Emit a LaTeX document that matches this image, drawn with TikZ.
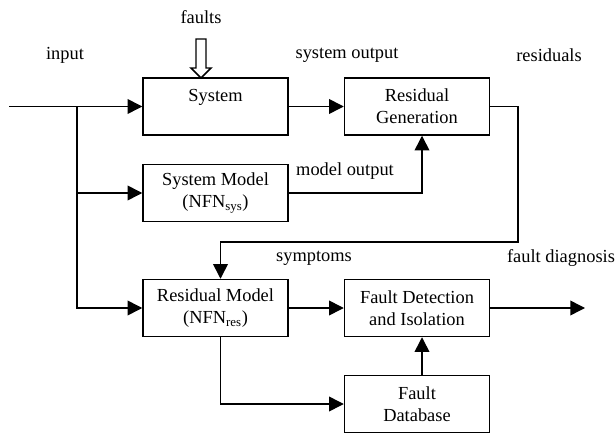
\documentclass[tikz,border=0pt]{standalone}
\usepackage{fontspec}
\setmainfont{Liberation Serif}
\usetikzlibrary{arrows.meta}

\begin{document}
\begin{tikzpicture}[x=0.75pt,y=-0.75pt,
		line width=1.1pt,
		font=\fontsize{13.8}{16.3}\selectfont,
		block/.style={draw,rectangle,align=center,inner sep=2pt,
			minimum width=108.75pt,minimum height=42.75pt},
		arr/.style={-{Triangle[length=11pt,width=11pt]}},
		lbl/.style={inner sep=1pt}]
		\useasboundingbox (0,0) rectangle (616,434);
		% blocks
		\node[block] (sys) at (215.5,106.5) {System\\\phantom{S}};
		\node[block] (resgen) at (417,106.5) {Residual\\Generation};
		\node[block] (sysmod) at (215.5,193) {System Model\\(NFN\textsubscript{sys})};
		\node[block] (resmod) at (215.5,308) {Residual Model\\(NFN\textsubscript{res})};
		\node[block] (fdi) at (417,308) {Fault Detection\\and Isolation};
		\node[block] (fdb) at (417,404) {Fault\\Database};
		% labels
		\node[lbl] (faults) at (201,17) {faults};
		\node[lbl] (input) at (65,55) {input};
		\node[lbl] (sysout) at (347,55) {system output};
		\node[lbl] (resid) at (549,55) {residuals};
		\node[lbl] (modout) at (345,171) {model output};
		\node[lbl] (sympt) at (314,258) {symptoms};
		\node[lbl] (diag) at (561,258) {fault diagnosis};
		% free ends
		\coordinate (in) at (9,106.5);
		\coordinate (br) at (77,106.5);
		\coordinate (turn) at (518,242);
		\coordinate (out) at (585,308);
		\coordinate (ftip) at (201,78);
		% connectors
		\draw[arr] (in) -- (sys);
		\draw[arr] (br) |- (sysmod);
		\draw[arr] (br) |- (resmod);
		\draw[arr] (sys) -- (resgen);
		\draw[arr] (sysmod.east) -| ([xshift=3.75pt]resgen.south);
		\draw[arr] (resgen.east) -| (turn) -| ([xshift=3.75pt]resmod.north);
		\draw[arr] (resmod) -- (fdi);
		\draw[arr] ([xshift=3.75pt]resmod.south) |- (fdb.west);
		\draw[arr] ([xshift=3.75pt]fdb.north) -- ([xshift=3.75pt]fdi.south);
		\draw[arr] (fdi) -- (out);
		% faults arrow
		\draw (ftip) -- ++(10,-10) -- ++(-5,0) -- ++(0,-29) -- ++(-10,0)
			-- ++(0,29) -- ++(-5,0) -- cycle;
	\end{tikzpicture}
\end{document}
